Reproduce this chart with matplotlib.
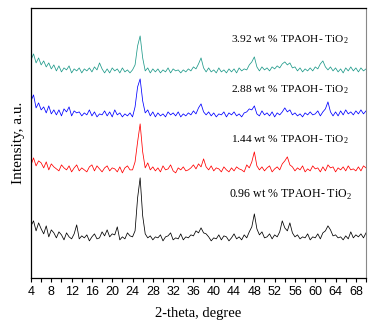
import numpy as np
import matplotlib
matplotlib.use('Agg')
import matplotlib.pyplot as plt
from matplotlib.ticker import MultipleLocator, NullLocator

# 2-theta grid, 4..70 deg in 0.5 deg steps
two_theta = np.arange(4.0, 70.01, 0.5)

# intensities (a.u., already stacked), one row per 5 degrees
int_096 = [52, 57, 47, 55, 49, 44, 52, 41, 48, 45,
           40, 46, 43, 38, 45, 41, 39, 44, 53, 39,
           42, 40, 43, 37, 41, 44, 39, 40, 46, 42,
           48, 41, 44, 43, 51, 38, 41, 39, 45, 42,
           41, 47, 80, 100, 62, 44, 40, 42, 38, 41,
           40, 43, 37, 41, 42, 45, 38, 40, 39, 44,
           38, 41, 40, 43, 42, 47, 45, 50, 45, 44,
           41, 37, 40, 39, 43, 38, 42, 41, 37, 40,
           44, 39, 41, 38, 43, 40, 46, 51, 64, 49,
           43, 46, 40, 41, 44, 39, 43, 41, 46, 57,
           50, 47, 55, 45, 41, 43, 39, 41, 40, 44,
           38, 41, 40, 44, 39, 45, 47, 52, 48, 42,
           43, 40, 41, 38, 42, 39, 46, 40, 43, 41,
           44, 40, 45]

int_144 = [113, 120, 112, 117, 115, 110, 116, 108, 114, 111,
           109, 107, 113, 110, 108, 112, 106, 110, 113, 107,
           110, 108, 106, 111, 113, 107, 112, 109, 106, 110,
           112, 107, 110, 109, 106, 111, 105, 110, 112, 108,
           108, 116, 136, 154, 126, 110, 115, 108, 111, 107,
           110, 106, 112, 108, 109, 113, 107, 105, 110, 108,
           111, 107, 108, 110, 113, 109, 114, 111, 119, 111,
           108, 112, 107, 110, 109, 106, 111, 108, 106, 110,
           107, 111, 109, 108, 106, 113, 110, 116, 126, 112,
           108, 111, 107, 110, 112, 106, 109, 111, 108, 114,
           117, 121, 113, 111, 107, 110, 108, 112, 106, 109,
           107, 112, 109, 110, 106, 111, 107, 113, 110, 111,
           106, 110, 108, 111, 107, 112, 108, 109, 107, 111,
           107, 112, 110]

int_288 = [177, 183, 170, 175, 168, 171, 165, 172, 164, 168,
           163, 168, 162, 169, 166, 171, 162, 167, 165, 166,
           162, 165, 163, 168, 162, 166, 161, 164, 163, 167,
           162, 166, 161, 168, 163, 165, 161, 164, 162, 165,
           161, 171, 191, 199, 177, 165, 168, 162, 166, 161,
           165, 162, 164, 161, 166, 163, 165, 162, 166, 161,
           164, 162, 165, 163, 167, 164, 170, 174, 166, 163,
           166, 162, 165, 161, 164, 163, 166, 161, 165, 163,
           166, 162, 164, 161, 165, 166, 169, 168, 172, 164,
           162, 167, 163, 165, 162, 166, 161, 165, 163, 166,
           170, 166, 168, 163, 165, 162, 164, 161, 165, 163,
           166, 163, 164, 167, 162, 166, 169, 176, 166, 162,
           166, 162, 167, 163, 168, 164, 166, 163, 167, 164,
           168, 164, 167]

int_392 = [218, 224, 215, 220, 213, 217, 211, 215, 209, 213,
           207, 212, 206, 210, 208, 212, 205, 209, 207, 210,
           205, 209, 207, 210, 206, 211, 208, 215, 209, 205,
           209, 205, 210, 207, 209, 205, 210, 206, 208, 205,
           208, 213, 232, 242, 220, 207, 210, 205, 209, 206,
           209, 205, 208, 206, 210, 205, 209, 207, 208, 205,
           208, 206, 209, 207, 211, 209, 214, 220, 210, 206,
           210, 206, 208, 205, 210, 206, 208, 205, 209, 206,
           209, 205, 210, 207, 209, 208, 213, 216, 221, 211,
           207, 211, 208, 210, 207, 211, 209, 212, 210, 214,
           216, 213, 215, 210, 211, 207, 210, 206, 209, 207,
           210, 207, 211, 209, 214, 217, 211, 208, 211, 207,
           210, 206, 209, 205, 210, 207, 211, 207, 210, 206,
           210, 207, 209]

series = [int_096, int_144, int_288, int_392]
colors = ['#000000', '#ff0000', '#0000ff', '#1f9a8a']
labels = ['0.96 wt % TPAOH- TiO$_2$', '1.44 wt % TPAOH- TiO$_2$',
          '2.88 wt % TPAOH- TiO$_2$', '3.92 wt % TPAOH- TiO$_2$']
label_y = [83, 138, 188, 238]

plt.rcParams['mathtext.fontset'] = 'custom'
plt.rcParams['mathtext.rm'] = 'Liberation Serif'

fig = plt.figure(figsize=(3.8, 3.3), dpi=100)
ax = fig.add_axes([0.0816, 0.158, 0.8816, 0.818])

for y, c in zip(series, colors):
    assert len(y) == len(two_theta)
    ax.plot(two_theta, y, color=c, lw=0.55)

for i, (txt, yy) in enumerate(zip(labels, label_y)):
    ax.text(67.2 if i == 0 else 66.6, yy, txt, ha='right', va='center',
            family='Liberation Serif', fontsize=8.6 if i == 0 else 8.2)

ax.set_xlim(4, 70)
ax.set_ylim(0, 270)
ax.xaxis.set_major_locator(MultipleLocator(4))
ax.xaxis.set_minor_locator(MultipleLocator(2))
ax.yaxis.set_major_locator(NullLocator())
ax.tick_params(axis='x', which='both', direction='out', length=3, width=0.8, pad=3)
for lab in ax.get_xticklabels():
    lab.set_family('Liberation Sans')
    lab.set_fontsize(9)

for s in ['left', 'bottom', 'top']:
    ax.spines[s].set_linewidth(0.9)
ax.spines['right'].set_color('#888888')

ax.set_xlabel('2-theta, degree', family='Liberation Serif', fontsize=10.5, labelpad=6)
ax.set_ylabel('Intensity, a.u.', family='Liberation Serif', fontsize=11, labelpad=4)

fig.savefig('out.png', dpi=100)
